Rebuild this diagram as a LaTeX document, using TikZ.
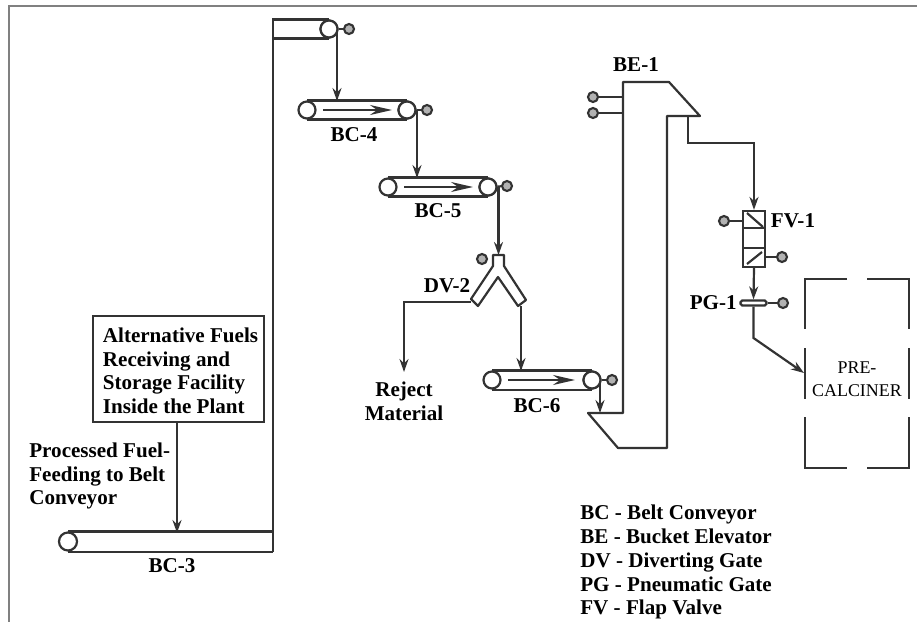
\documentclass[tikz,border=0pt]{standalone}
\usepackage{fontspec}
\setmainfont{Liberation Serif}
\usetikzlibrary{arrows.meta}
\tikzset{
  lbl/.style={inner sep=0pt,font=\fontsize{12}{13.4}\selectfont\bfseries},
  pulley/.style={circle,draw=line,fill=white,line width=1.25pt,minimum size=0.34cm,inner sep=0pt},
  motor/.style={circle,draw=line,fill=gray!60,line width=1.2pt,minimum size=0.2cm,inner sep=0pt},
  pipe/.style={draw=line,line width=1.25pt},
  flow/.style={pipe,-{Stealth[length=2.6mm,width=1.8mm]}},
  belt/.style={pipe,-{Stealth[length=4.4mm,width=2mm]}}
}
\colorlet{line}{black!80}
\begin{document}
\begin{tikzpicture}[x=0.02cm,y=-0.02cm]
        \useasboundingbox (0,0) rectangle (917,622);
        % Frame
        \draw[gray,line width=1pt] (917,6) -- (9,6) -- (9,622);
        % Receiving box
        \node[draw=line,line width=1.25pt,minimum width=3.42cm,minimum height=2.12cm] (store) at (178.5,369) {};
        \node[lbl,align=left] (storet) at (180.5,371) {Alternative Fuels\\Receiving and\\Storage Facility\\Inside the Plant};
        \node[lbl,align=left,anchor=west] (feed) at (29,476) {Processed Fuel-\\Feeding to Belt\\Conveyor};
        % BC-3
        \node[pulley,minimum size=0.36cm] (bc3l) at (68,541.5) {};
        \coordinate (bc3a) at (bc3l.north -| 273,0);
        \coordinate (bc3b) at (bc3l.south -| 273,0);
        \coordinate (bc3in) at (177,533);
        \draw[pipe] (bc3l.north) -- (bc3a);
        \draw[pipe] (bc3l.south) -- (bc3b);
        \draw[flow] (store.south -| bc3in) -- (bc3in);
        \node[lbl] (bc3t) at (172,566) {BC-3};
        % Vertical leg up to the top pulley
        \node[pulley] (topr) at (329,29) {};
        \node[motor] (topm) at (349,29) {};
        \coordinate (topa) at (topr.north -| bc3a);
        \coordinate (topb) at (topr.south -| bc3a);
        \draw[pipe] (bc3b) -- (topa) -- (topr.north);
        \draw[pipe] (topb) -- (topr.south);
        \draw[pipe] (topr) -- (topm);
        % BC-4
        \node[pulley] (bc4l) at (307,110) {};
        \node[pulley] (bc4r) at (407,110) {};
        \node[motor] (bc4m) at (427,110) {};
        \draw[pipe] (bc4l.north) -- (bc4r.north);
        \draw[pipe] (bc4l.south) -- (bc4r.south);
        \draw[pipe] (bc4r) -- (bc4m);
        \draw[belt] (323,110) -- (392,110);
        \coordinate (top4) at (337,29);
        \coordinate (in4) at (337,101);
        \draw[flow] (top4) -- (in4);
        \node[pulley] at (topr) {};
        \node[lbl] (bc4t) at (354,135) {BC-4};
        % BC-5
        \node[pulley] (bc5l) at (388,187) {};
        \node[pulley] (bc5r) at (488,187) {};
        \node[motor] (bc5m) at (507,186) {};
        \draw[pipe] (bc5l.north) -- (bc5r.north);
        \draw[pipe] (bc5l.south) -- (bc5r.south);
        \draw[pipe] (bc5r) -- (bc5m);
        \draw[belt] (404,187) -- (473,187);
        \coordinate (top5) at (417,110);
        \coordinate (in5) at (417,178);
        \draw[flow] (top5) -- (in5);
        \node[pulley] at (bc4r) {};
        \node[lbl] (bc5t) at (438,211) {BC-5};
        % DV-2
        \coordinate (dvtop) at (498.5,255);
        \coordinate (top6) at (498.5,187);
        \coordinate (dvl) at (471,302);
        \coordinate (dvr) at (521,306);
        \draw[flow] (top6) -- (dvtop);
        \node[pulley] at (bc5r) {};
        \draw[pipe,line join=round] (493,255) -- (493,266) -- (471,299) -- (478,306) -- (498,277) -- (518,306) -- (526,300) -- (504,266) -- (504,255) -- cycle;
        \node[motor] (dvm) at (482,259) {};
        \node[lbl] (dvt) at (447,286) {DV-2};
        \coordinate (rej) at (404,372);
        \draw[flow] (dvl) -- (rej |- dvl) -- (rej);
        \node[lbl,align=center,anchor=north] (rejt) at (404,382) {Reject\\Material};
        % BC-6
        \node[pulley] (bc6l) at (492,380) {};
        \node[pulley] (bc6r) at (592,380) {};
        \node[motor] (bc6m) at (612,380) {};
        \coordinate (in6) at (521,371);
        \draw[pipe] (bc6l.north) -- (bc6r.north);
        \draw[pipe] (bc6l.south) -- (bc6r.south);
        \draw[pipe] (bc6r) -- (bc6m);
        \draw[belt] (508,380) -- (575,380);
        \draw[flow] (dvr) -- (in6);
        \node[lbl] (bc6t) at (537,406) {BC-6};
        % BE-1
        \coordinate (be1) at (588,413);
        \coordinate (be2) at (623,413);
        \coordinate (be3) at (623,82);
        \coordinate (be4) at (669,82);
        \coordinate (be5) at (700,116);
        \coordinate (be6) at (667,116);
        \coordinate (be7) at (667,448);
        \coordinate (be8) at (618,448);
        \draw[pipe,line join=round] (be1) -- (be2) -- (be3) -- (be4) -- (be5) -- (be6) -- (be7) -- (be8) -- cycle;
        \coordinate (drop6) at (600,380);
        \coordinate (boot) at (600,413);
        \draw[flow] (drop6) -- (boot);
        \node[pulley] at (bc6r) {};
        \node[lbl] (bet) at (636,65) {BE-1};
        \node[motor] (bem1) at (593,97) {};
        \node[motor] (bem2) at (593,113) {};
        \draw[pipe] (bem1) -- (bem1 -| be3);
        \draw[pipe] (bem2) -- (bem2 -| be3);
        % FV-1
        \node[draw=line,line width=1.25pt,minimum width=0.44cm,minimum height=1.12cm,inner sep=0pt] (fv) at (754,239) {};
        \draw[pipe] (743,228) -- (765,228);
        \draw[pipe] (743,248) -- (765,248);
        \draw[pipe] (747,213) -- (763,227);
        \draw[pipe] (747,264) -- (762,252);
        \coordinate (out) at (688,116);
        \draw[flow] (out) -- (688,143) -- (754,143) -- (fv.north);
        \node[motor] (fvm1) at (724,221) {};
        \node[motor] (fvm2) at (782,257) {};
        \draw[pipe] (fvm1) -- (fvm1 -| fv.west);
        \draw[pipe] (fvm2) -- (fvm2 -| fv.east);
        \node[lbl] (fvt) at (793,221) {FV-1};
        % PG-1
        \node[draw=line,line width=1.25pt,rounded corners=1pt,fill=white,minimum width=0.52cm,minimum height=0.1cm,inner sep=0pt] (pg) at (753.5,303) {};
        \node[motor] (pgm) at (783,303) {};
        \draw[pipe] (pg) -- (pgm);
        \draw[flow] (fv.south) -- (pg.north);
        \node[lbl,anchor=east] (pgt) at (737,303) {PG-1};
        % Pre-calciner
        \coordinate (kink) at (753.5,338);
        \coordinate (inpc) at (804,373);
        \draw[flow] (pg.south) -- (kink) -- (inpc);
        \draw[pipe] (847,279) -- (805,279) -- (805,329);
        \draw[pipe] (805,348) -- (805,399);
        \draw[pipe] (805,417) -- (805,468) -- (847,468);
        \draw[pipe] (867,279) -- (909,279) -- (909,329);
        \draw[pipe] (909,348) -- (909,399);
        \draw[pipe] (909,417) -- (909,468) -- (867,468);
        \node[align=center,inner sep=0pt,font=\fontsize{10.2}{13.4}\selectfont] (pc) at (857,379) {PRE-\\CALCINER};
        % Legend
        \node[lbl,anchor=base west] (k1) at (580,519) {BC - Belt Conveyor};
        \node[lbl,anchor=base west] (k2) at (580,543) {BE - Bucket Elevator};
        \node[lbl,anchor=base west] (k3) at (580,567) {DV - Diverting Gate};
        \node[lbl,anchor=base west] (k4) at (580,591) {PG - Pneumatic Gate};
        \node[lbl,anchor=base west] (k5) at (580,614) {FV - Flap Valve};
    \end{tikzpicture}
\end{document}
